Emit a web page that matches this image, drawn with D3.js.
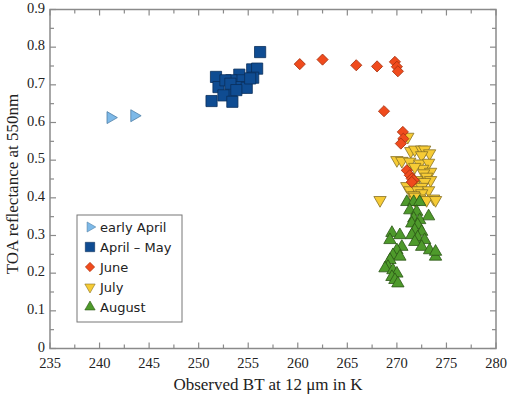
<!DOCTYPE html>
<html>
<head>
<meta charset="utf-8">
<script src="https://cdn.jsdelivr.net/npm/d3@7"></script>
<style>
  body { margin: 0; background: #fff; }
  .tick-label { font-family: "Liberation Serif", "Times New Roman", serif; font-size: 14.5px; fill: #222; }
  .axis-title { font-family: "Liberation Serif", "Times New Roman", serif; font-size: 17px; fill: #222; }
  .legend text { font-family: "DejaVu Sans", Verdana, sans-serif; font-size: 13px; fill: #222; }
</style>
</head>
<body>
<div id="chart"></div>
<script>
// observed BT (K) and TOA reflectance, one pair of arrays per period
let earlyAprilBT = [241.1, 243.5];
let earlyAprilR = [0.613, 0.618];

let aprilMayBT = [256.2, 255.4, 255.9, 255.5, 254.1, 254.2, 253.3, 251.75, 252.0, 252.7, 253.3, 254.3, 254.85, 252.5, 253.4, 251.3, 253.2, 255.2, 253.8];
let aprilMayR = [0.787, 0.741, 0.743, 0.719, 0.727, 0.712, 0.712, 0.721, 0.694, 0.712, 0.681, 0.694, 0.692, 0.672, 0.655, 0.657, 0.703, 0.717, 0.686];

let juneBT = [260.2, 262.5, 265.9, 268.0, 269.8, 270.0, 270.1, 268.7, 270.6, 270.65, 270.4, 271.0, 271.3, 271.5, 271.7, 271.5];
let juneR = [0.755, 0.767, 0.752, 0.749, 0.761, 0.748, 0.736, 0.630, 0.575, 0.557, 0.544, 0.473, 0.460, 0.451, 0.447, 0.442];

let julyBT = [271.1, 271.4, 271.8, 272.5, 272.8, 273.3, 272.5, 270.0, 270.5, 271.3, 272.3, 273.2, 272.6, 271.8, 273.4, 272.7, 273.0, 272.0, 273.4, 272.8, 271.0, 271.7, 272.5, 271.3, 272.1, 273.2, 272.5, 271.7, 272.3, 273.7, 268.3, 271.8, 273.0, 273.9, 271.8];
let julyR = [0.562, 0.524, 0.528, 0.528, 0.528, 0.518, 0.513, 0.500, 0.498, 0.496, 0.491, 0.493, 0.477, 0.482, 0.469, 0.465, 0.456, 0.447, 0.447, 0.442, 0.431, 0.434, 0.429, 0.420, 0.420, 0.420, 0.412, 0.407, 0.398, 0.398, 0.394, 0.394, 0.394, 0.394, 0.403];

let augustBT = [271.0, 271.7, 272.3, 271.3, 272.0, 273.2, 271.7, 272.3, 271.5, 272.1, 271.8, 272.5, 269.5, 270.3, 271.5, 272.1, 272.8, 269.3, 271.8, 272.5, 273.3, 270.5, 270.0, 273.9, 273.9, 269.6, 270.3, 269.3, 269.1, 268.8, 269.6, 270.0, 269.5, 269.8, 270.1];
let augustR = [0.389, 0.389, 0.389, 0.367, 0.363, 0.351, 0.345, 0.341, 0.332, 0.328, 0.314, 0.310, 0.307, 0.301, 0.301, 0.295, 0.288, 0.288, 0.283, 0.270, 0.261, 0.270, 0.261, 0.244, 0.257, 0.248, 0.244, 0.235, 0.217, 0.213, 0.208, 0.199, 0.190, 0.182, 0.173];

let xTicks = [235, 240, 245, 250, 255, 260, 265, 270, 275, 280];
let yTicks = [0, 0.1, 0.2, 0.3, 0.4, 0.5, 0.6, 0.7, 0.8, 0.9];

let width = 530,
    height = 399;
const plot = {left: 50, right: 496, top: 9.5, bottom: 348.5};

let svg = d3.select('#chart')
    .append("svg")
    .attr("width", width)
    .attr("height", height);

let x = d3.scaleLinear().domain([235, 280]).range([plot.left, plot.right]);
let y = d3.scaleLinear().domain([0, 0.9]).range([plot.bottom, plot.top]);

// series: fill, stroke, symbol, size, rotation
let series = [
    {name: "early April", bt: earlyAprilBT, r: earlyAprilR, fill: "#7db9e8", stroke: "#4f7fa6", type: d3.symbolTriangle, size: 62, rot: 90},
    {name: "April \u2013 May", bt: aprilMayBT, r: aprilMayR, fill: "#0f4c92", stroke: "#0a2e5a", type: d3.symbolSquare, size: 125, rot: 0},
    {name: "June", bt: juneBT, r: juneR, fill: "#f04b1d", stroke: "#a8320f", type: d3.symbolSquare, size: 62, rot: 45},
    {name: "July", bt: julyBT, r: julyR, fill: "#f6cb35", stroke: "#857025", type: d3.symbolTriangle, size: 66, rot: 180},
    {name: "August", bt: augustBT, r: augustR, fill: "#4e9a2b", stroke: "#2b5515", type: d3.symbolTriangle, size: 66, rot: 0}
];
let drawOrder = [0, 1, 3, 2, 4];

// frame
svg.append("rect")
    .attr("x", plot.left)
    .attr("y", plot.top)
    .attr("width", plot.right - plot.left)
    .attr("height", plot.bottom - plot.top)
    .attr("fill", "none")
    .attr("stroke", "#8a8a8a")
    .attr("stroke-width", 1.5);

// inward ticks on all four sides, minor at half steps
let xMinor = d3.range(235, 280.01, 2.5);
let yMinor = d3.range(0, 0.901, 0.05);
let ticks = svg.append("g").attr("stroke", "#8a8a8a").attr("stroke-width", 1.2);
xMinor.forEach(function(v, i) {
    let len = i % 2 == 0 ? 6 : 4;
    ticks.append("line").attr("x1", x(v)).attr("x2", x(v)).attr("y1", plot.bottom).attr("y2", plot.bottom - len);
    ticks.append("line").attr("x1", x(v)).attr("x2", x(v)).attr("y1", plot.top).attr("y2", plot.top + len);
});
yMinor.forEach(function(v, i) {
    let len = i % 2 == 0 ? 6 : 4;
    ticks.append("line").attr("y1", y(v)).attr("y2", y(v)).attr("x1", plot.left).attr("x2", plot.left + len);
    ticks.append("line").attr("y1", y(v)).attr("y2", y(v)).attr("x1", plot.right).attr("x2", plot.right - len);
});

svg.selectAll(".xlab").data(xTicks).enter()
    .append("text")
    .attr("class", "tick-label")
    .attr("x", d => x(d))
    .attr("y", 367.5)
    .style("text-anchor", "middle")
    .text(d => d);

svg.selectAll(".ylab").data(yTicks).enter()
    .append("text")
    .attr("class", "tick-label")
    .attr("x", 45)
    .attr("y", d => y(d) + 3)
    .style("text-anchor", "end")
    .text(d => d === 0 ? "0" : d3.format(".1f")(d));

svg.append("text")
    .attr("class", "axis-title")
    .attr("transform", 'translate(268,390)')
    .style("text-anchor", "middle")
    .text("Observed BT at 12 \u03bcm in K");

svg.append("text")
    .attr("class", "axis-title")
    .attr("transform", 'translate(18,184) rotate(270)')
    .style("text-anchor", "middle")
    .text("TOA reflectance at 550nm");

// points
let pts = svg.append("g");
drawOrder.forEach(function(si) {
    let s = series[si];
    let data = s.bt.map((b, i) => ({bt: b, r: s.r[i]}));
    pts.append("g").selectAll("path").data(data).enter()
        .append("path")
        .attr("d", d3.symbol().type(s.type).size(s.size))
        .attr("transform", d => "translate(" + x(d.bt) + "," + y(d.r) + ") rotate(" + s.rot + ")")
        .attr("fill", s.fill)
        .attr("stroke", s.stroke)
        .attr("stroke-width", 0.8);
});

// legend
let legend = svg.append("g").attr("class", "legend");
legend.append("rect")
    .attr("x", 77)
    .attr("y", 215)
    .attr("width", 105)
    .attr("height", 107)
    .attr("fill", "#fff")
    .attr("stroke", "#777")
    .attr("stroke-width", 1);
series.forEach(function(s, i) {
    let cy = 227 + i * 20;
    legend.append("path")
        .attr("d", d3.symbol().type(s.type).size(s.size * 0.7))
        .attr("transform", "translate(90," + cy + ") rotate(" + s.rot + ")")
        .attr("fill", s.fill)
        .attr("stroke", s.stroke)
        .attr("stroke-width", 0.6);
    legend.append("text")
        .attr("x", 100)
        .attr("y", cy + 5)
        .text(s.name);
});
</script>
</body>
</html>
